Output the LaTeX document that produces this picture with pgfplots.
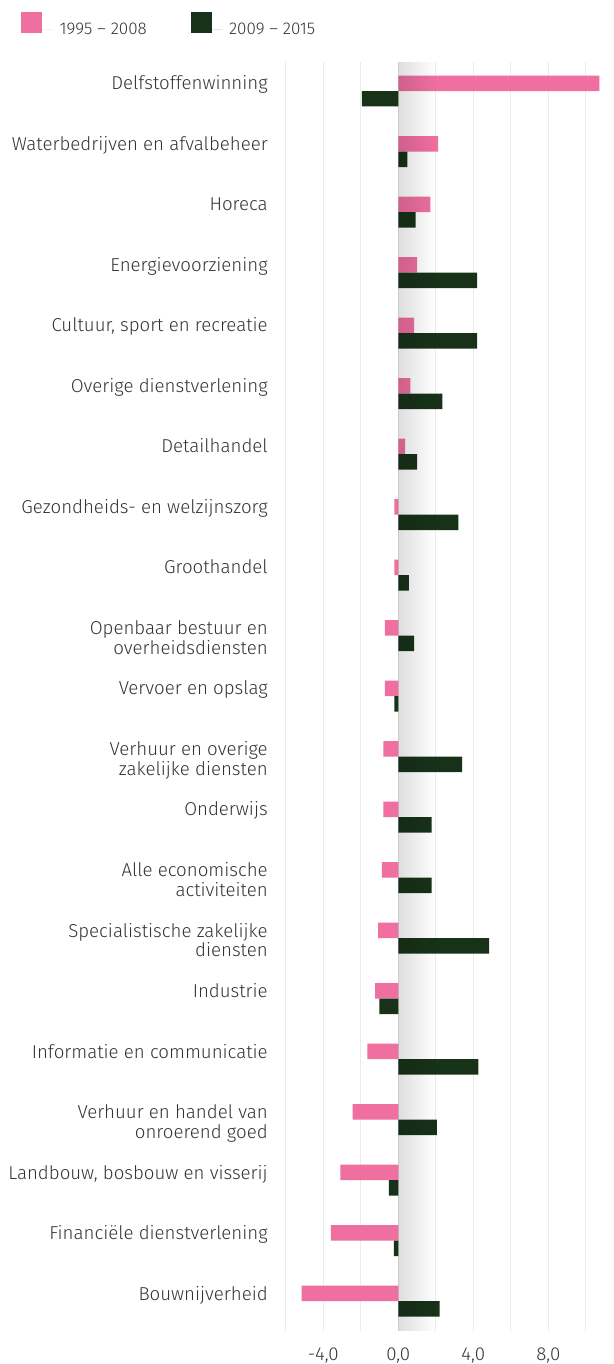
\documentclass[border=0pt]{standalone}
\usepackage{fontspec}
\setmainfont{Fira Sans}[UprightFont={* Light}]
\usepackage{pgfplots}
\pgfplotsset{compat=1.18}
\usetikzlibrary{fadings}

\definecolor{roze}{HTML}{EE6FA0}
\definecolor{donkergroen}{HTML}{18321A}
\definecolor{tekst}{HTML}{333333}
\definecolor{raster}{HTML}{EBEBEB}
\tikzfading[name=naarrechts, left color=transparent!0, right color=transparent!100]
% two-line label whose baseline is the first line
\newcommand{\twee}[2]{\begin{tabular}[t]{@{}r@{}}#1\\#2\end{tabular}}

\begin{document}
\begin{tikzpicture}
\useasboundingbox (-212.9pt,-24.5pt) rectangle (247.6pt,998.5pt);
\begin{axis}[
    scale only axis,
    width=237.7pt, height=952pt,
    xbar, bar width=11.6pt,
    xmin=-6.1, xmax=10.8,
    ymin=-0.5, ymax=20.48,
    axis line style={draw=none},
    major tick length=0pt,
    xtick={-6,-4,...,10},
    xticklabels={,{-4,0},,{0,0},,{4,0},,{8,0},},
    xmajorgrids,
    grid style={draw=raster, line width=1pt},
    ytick={0,...,20},
    yticklabels={
        Bouwnijverheid,
        Financiële dienstverlening,
        {Landbouw, bosbouw en visserij},
        \twee{Verhuur en handel van}{onroerend goed},
        Informatie en communicatie,
        Industrie,
        \twee{Specialistische zakelijke}{diensten},
        \twee{Alle economische}{activiteiten},
        Onderwijs,
        \twee{Verhuur en overige}{zakelijke diensten},
        Vervoer en opslag,
        \twee{Openbaar bestuur en}{overheidsdiensten},
        Groothandel,
        Gezondheids- en welzijnszorg,
        Detailhandel,
        Overige dienstverlening,
        {Cultuur, sport en recreatie},
        Energievoorziening,
        Horeca,
        Waterbedrijven en afvalbeheer,
        Delfstoffenwinning},
    yticklabel style={font=\fontsize{14}{14.25}\selectfont, text=tekst,
        anchor=base east, inner sep=0pt, xshift=-11.9pt, yshift=0.8pt},
    xticklabel style={font=\fontsize{14}{14.25}\selectfont, text=tekst,
        anchor=base, inner sep=0pt, yshift=-21.5pt},
    legend style={at={(axis description cs:-0.8296,1.0394)}, anchor=north west,
        draw=none, fill=none, inner sep=0pt, legend columns=2,
        font=\fontsize{12.75}{14}\selectfont, text=tekst,
        column sep=0pt,
        /tikz/every even column/.append style={column sep=33pt},
        nodes={inner sep=0pt}},
    legend cell align=left,
]
\addplot[fill=roze, draw=none, bar shift=5.8pt,
    legend image code/.code={\fill[roze] (0pt,-2.6pt) rectangle (15.75pt,13.1pt);
        \path (15.75pt,0pt) -- (23.75pt,0pt);}]
    coordinates {
    (10.72,20) (2.13,19) (1.71,18) (1.00,17) (0.84,16) (0.64,15) (0.36,14)
    (-0.21,13) (-0.21,12) (-0.71,11) (-0.71,10) (-0.80,9) (-0.80,8) (-0.87,7)
    (-1.08,6) (-1.23,5) (-1.65,4) (-2.43,3) (-3.09,2) (-3.59,1) (-5.15,0)
    };
\addplot[fill=donkergroen, draw=none, bar shift=-5.8pt,
    legend image code/.code={\fill[donkergroen] (0pt,-2.6pt) rectangle (15.75pt,13.1pt);
        \path (15.75pt,0pt) -- (23.75pt,0pt);}]
    coordinates {
    (-1.94,20) (0.48,19) (0.93,18) (4.20,17) (4.20,16) (2.35,15) (1.00,14)
    (3.20,13) (0.57,12) (0.85,11) (-0.21,10) (3.41,9) (1.78,8) (1.78,7)
    (4.85,6) (-1.01,5) (4.27,4) (2.06,3) (-0.50,2) (-0.23,1) (2.20,0)
    };
\legend{\hspace*{5pt}1995 – 2008, \hspace*{5pt}2009 – 2015}
\fill[black, opacity=0.13, path fading=naarrechts]
    (axis cs:0,-0.5) rectangle (axis cs:2,20.48);
\end{axis}
\end{tikzpicture}
\end{document}
